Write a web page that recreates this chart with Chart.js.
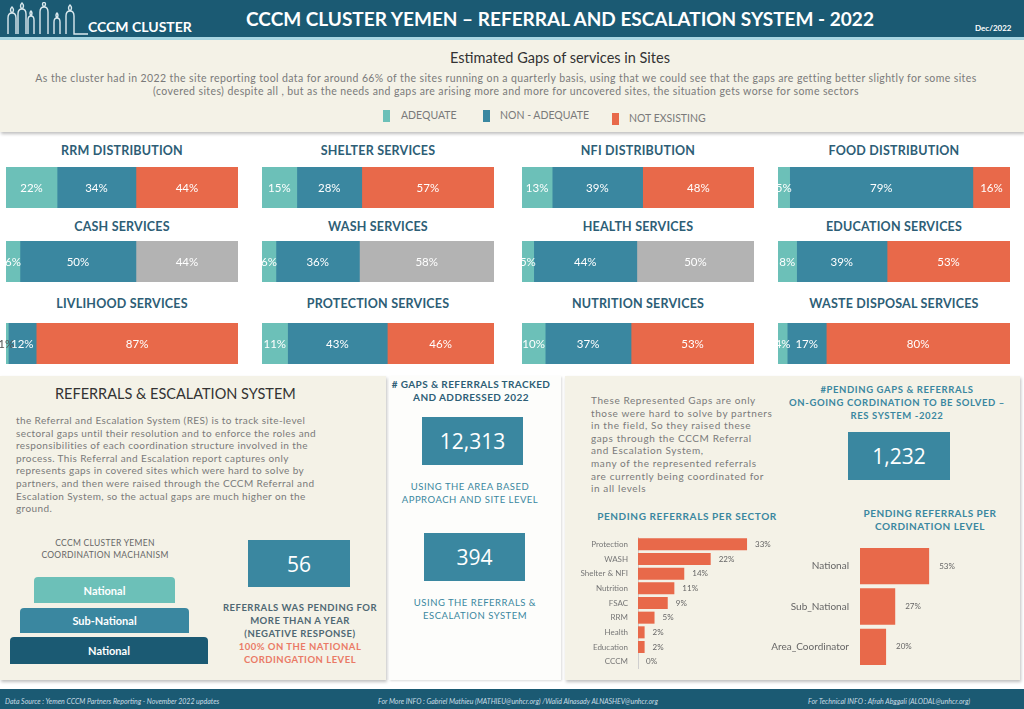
<!DOCTYPE html>
<html>
<head>
<meta charset="utf-8">
<script src="https://cdn.jsdelivr.net/npm/chart.js@4.4.0/dist/chart.umd.min.js"></script>
<style>
  body { margin: 0; width: 1024px; height: 709px; overflow: hidden; background: #fff; font-family: Lato, 'Open Sans', sans-serif; position: relative; }
  .abs { position: absolute; }
  .header { left: 0; top: 0; width: 1024px; height: 37px; background: #1b5a73; }
  .strip { left: 0; top: 37px; width: 1024px; height: 3px; background: #a9d6e2; }
  .title { left: 160px; top: 7px; width: 800px; text-align: center; color: #fff; font-weight: 700; font-size: 19px; white-space: nowrap; }
  .panel { background: #f4f2e7; box-shadow: 1px 2px 3px rgba(0,0,0,0.25); }
  .para { color: #7a7a7a; font-size: 10px; line-height: 12.6px; white-space: nowrap; }
  .svc-title { color: #2d5e76; font-weight: 700; font-size: 12.5px; text-align: center; width: 232px; letter-spacing: 0.2px; white-space: nowrap; }
  .numbox { background: #3a87a0; color: #fff; font-family: 'Open Sans', sans-serif; font-size: 21px; display: flex; align-items: center; justify-content: center; }
  .cap { text-align: center; font-size: 9.5px; line-height: 13px; white-space: nowrap; letter-spacing: 0.5px; }
  .step { color: #fff; font-weight: 700; font-size: 11px; display: flex; align-items: center; justify-content: center; border-radius: 4px 4px 0 0; }
  .foot { color: #c9dde5; font-style: italic; font-size: 7px; top: 697px; white-space: nowrap; }
</style>
</head>
<body>
<script>
// stacked gap shares per service (percent of sites)
const serviceNames = ['RRM DISTRIBUTION', 'SHELTER SERVICES', 'NFI DISTRIBUTION', 'FOOD DISTRIBUTION',
  'CASH SERVICES', 'WASH SERVICES', 'HEALTH SERVICES', 'EDUCATION SERVICES',
  'LIVLIHOOD SERVICES', 'PROTECTION SERVICES', 'NUTRITION SERVICES', 'WASTE DISPOSAL SERVICES'];
const adequate = [22, 15, 13, 5, 6, 6, 5, 8, 1, 11, 10, 4];
const nonAdequate = [34, 28, 39, 79, 50, 36, 44, 39, 12, 43, 37, 17];
const notExisting = [44, 57, 48, 16, 44, 58, 50, 53, 87, 46, 53, 80];
const greyedServices = ['CASH SERVICES', 'WASH SERVICES', 'HEALTH SERVICES'];

// pending referrals per sector
const sectorLabels = ['Protection', 'WASH', 'Shelter & NFI', 'Nutrition', 'FSAC', 'RRM', 'Health', 'Education', 'CCCM'];
const sectorShares = [33, 22, 14, 11, 9, 5, 2, 2, 0];

// pending referrals per coordination level
const levelLabels = ['National', 'Sub_National', 'Area_Coordinator'];
const levelShares = [53, 27, 20];
</script>

<div class="abs header"></div>
<div class="abs strip"></div>
<svg class="abs" style="left:4px;top:2px" width="84" height="34" viewBox="0 0 84 34" fill="none" stroke="#dbe9ee" stroke-width="1.4">
  <path d="M4 32 V16 q0-5 4-5 q-3-3 0-6 q3 3 0 6 q4 0 4 5 V32"/>
  <path d="M14 32 V12 q0-5 4-5 q-3-3 0-6 q3 3 0 6 q4 0 4 5 V32"/>
  <path d="M24 32 V18 q0-4 3-4 q-2-3 0-5 q2 2 0 5 q3 0 3 4 V32"/>
  <path d="M36 32 V10 q0-5 4-5 q-3-3 0-5 q3 2 0 5 q4 0 4 5 V32"/>
  <path d="M50 32 V20 q0-4 3-4 q-2-3 0-5 q2 2 0 5 q3 0 3 4 V32"/>
  <path d="M62 32 V14 q0-5 4-5 q-3-3 0-6 q3 3 0 6 q4 0 4 5 V32 H84"/>
</svg>
<div class="abs" style="left:88px;top:18px;color:#fff;font-weight:700;font-size:14px;white-space:nowrap">CCCM CLUSTER</div>
<div class="abs title">CCCM CLUSTER YEMEN – REFERRAL AND ESCALATION SYSTEM - 2022</div>
<div class="abs" style="left:975px;top:23px;color:#fff;font-weight:700;font-size:8px">Dec/2022</div>

<div class="abs panel" style="left:0;top:40px;width:1024px;height:92px"></div>
<div class="abs" style="left:0;top:49px;width:1024px;text-align:center;color:#333;font-size:14.5px;padding-left:96px;box-sizing:border-box">Estimated Gaps of services in Sites</div>
<div class="abs para" style="left:0;top:72px;width:1012px;text-align:center;font-size:10.5px;letter-spacing:0.4px">As the cluster had in 2022 the site reporting tool data for around 66% of the sites running on a quarterly basis, using that we could see that the gaps are getting better slightly for some sites<br>(covered sites) despite all , but as the needs and gaps are arising more and more for uncovered sites, the situation gets worse for some sectors</div>
<div class="abs" style="left:383px;top:110px;width:7px;height:12px;background:#6cc0b8"></div>
<div class="abs para" style="left:401px;top:109px;font-size:10.5px">ADEQUATE</div>
<div class="abs" style="left:483px;top:110px;width:7px;height:12px;background:#3a87a0"></div>
<div class="abs para" style="left:500px;top:109px;font-size:10.5px">NON - ADEQUATE</div>
<div class="abs" style="left:612px;top:113px;width:7px;height:12px;background:#e8694a"></div>
<div class="abs para" style="left:629px;top:112px;font-size:10.5px">NOT EXSISTING</div>

<div id="services"></div>

<!-- left panel -->
<div class="abs panel" style="left:0;top:376px;width:386px;height:304px"></div>
<div class="abs" style="left:55px;top:385px;color:#333;font-size:14.5px;white-space:nowrap">REFERRALS &amp; ESCALATION SYSTEM</div>
<div class="abs para" style="left:16px;top:414px;letter-spacing:0.4px">the Referral and Escalation System (RES) is to track site-level<br>sectoral gaps until their resolution and to enforce the roles and<br>responsibilities of each coordination structure involved in the<br>process. This Referral and Escalation report captures only<br>represents gaps in covered sites which were hard to solve by<br>partners, and then were raised through the CCCM Referral and<br>Escalation System, so the actual gaps are much higher on the<br>ground.</div>
<div class="abs cap" style="left:5px;top:537px;width:200px;color:#666;font-size:8.5px;line-height:12px;letter-spacing:0.3px">CCCM CLUSTER YEMEN<br>COORDINATION MACHANISM</div>
<div class="abs step" style="left:34px;top:577px;width:141px;height:26px;background:#6cc0b8">National</div>
<div class="abs step" style="left:20px;top:608px;width:169px;height:25px;background:#3a87a0">Sub-National</div>
<div class="abs step" style="left:10px;top:637px;width:198px;height:27px;background:#1b5a73">National</div>
<div class="abs numbox" style="left:248px;top:540px;width:102px;height:47px">56</div>
<div class="abs cap" style="left:200px;top:601px;width:200px;font-weight:700;color:#4f6873">REFERRALS WAS PENDING FOR<br>MORE THAN A YEAR<br>(NEGATIVE RESPONSE)<br><span style="color:#ea7a66">100% ON THE NATIONAL<br>CORDINGATION LEVEL</span></div>

<!-- middle column -->
<div class="abs" style="left:389px;top:376px;width:172px;height:304px;background:#fdfdfb;box-shadow:1px 1px 2px rgba(0,0,0,0.15)"></div>
<div class="abs cap" style="left:371px;top:378px;width:200px;font-weight:700;color:#2d5e76;font-size:10px;letter-spacing:0.4px">#&nbsp;GAPS &amp; REFERRALS TRACKED<br>AND ADDRESSED 2022</div>
<div class="abs numbox" style="left:422px;top:417px;width:101px;height:48px">12,313</div>
<div class="abs cap" style="left:370px;top:480px;width:200px;color:#3a87a0">USING THE AREA BASED<br>APPROACH AND SITE LEVEL</div>
<div class="abs numbox" style="left:424px;top:533px;width:101px;height:48px">394</div>
<div class="abs cap" style="left:375px;top:596px;width:200px;color:#3a87a0">USING THE REFERRALS &amp;<br>ESCALATION SYSTEM</div>

<!-- right panel -->
<div class="abs panel" style="left:565px;top:376px;width:455px;height:304px"></div>
<div class="abs para" style="left:591px;top:394px;letter-spacing:0.6px">These Represented Gaps are only<br>those were hard to solve by partners<br>in the field, So they raised these<br>gaps through the CCCM Referral<br>and Escalation System,<br>many of the represented referrals<br>are currently being coordinated for<br>in all levels</div>
<div class="abs cap" style="left:747px;top:383px;width:300px;font-weight:700;color:#3a87a0;letter-spacing:0.6px">#PENDING GAPS &amp; REFERRALS<br>ON-GOING CORDINATION TO BE SOLVED –<br>RES SYSTEM -2022</div>
<div class="abs numbox" style="left:848px;top:432px;width:102px;height:48px">1,232</div>
<div class="abs cap" style="left:587px;top:510px;width:200px;font-weight:700;color:#3a87a0;font-size:10px;letter-spacing:0.6px">PENDING REFERRALS PER SECTOR</div>
<div class="abs cap" style="left:830px;top:507px;width:200px;font-weight:700;color:#3a87a0;font-size:10px;letter-spacing:0.5px">PENDING REFERRALS PER<br>CORDINATION LEVEL</div>
<canvas id="sectorChart" class="abs" style="left:570px;top:537px" width="220" height="132"></canvas>
<canvas id="levelChart" class="abs" style="left:760px;top:546px" width="250" height="121"></canvas>

<!-- footer -->
<div class="abs" style="left:0;top:689px;width:1024px;height:20px;background:#1b5a73"></div>
<div class="abs foot" style="left:5px">Data Source : Yemen CCCM Partners Reporting - November 2022 updates</div>
<div class="abs foot" style="left:378px">For More INFO : Gabriel Mathieu (MATHIEU@unhcr.org) /Walid Alnasady ALNASHEV@unhcr.org</div>
<div class="abs foot" style="left:808px">For Technical INFO : Afrah Abggali (ALODAL@unhcr.org)</div>

<script>
const colLeft = [6, 262, 522, 778];
const rowBarTop = [167, 241, 323];
const rowTitleTop = [143, 219, 296];
const sidePad = 10;

const segmentLabels = {
  id: 'segmentLabels',
  afterDatasetsDraw(chart) {
    const ctx = chart.ctx;
    ctx.save();
    ctx.font = '11.5px Lato';
    ctx.textAlign = 'center';
    ctx.textBaseline = 'middle';
    chart.data.datasets.forEach((ds, i) => {
      chart.getDatasetMeta(i).data.forEach((bar, j) => {
        const v = ds.data[j];
        ctx.fillStyle = v < 3 ? '#555' : '#fff';
        ctx.fillText(v + '%', (bar.x + bar.base) / 2 - (v < 3 ? 1 : 0), bar.y + 1);
      });
    });
    ctx.restore();
  },
};

const endLabels = {
  id: 'endLabels',
  afterDatasetsDraw(chart, args, opts) {
    const ctx = chart.ctx;
    ctx.save();
    ctx.font = opts.size + 'px Lato';
    ctx.fillStyle = '#666';
    ctx.textBaseline = 'middle';
    const ds = chart.data.datasets[0];
    chart.getDatasetMeta(0).data.forEach((bar, j) => {
      ctx.fillText(ds.data[j] + '%', bar.x + opts.gap, bar.y);
    });
    ctx.restore();
  },
};

const holder = document.getElementById('services');
serviceNames.forEach((name, i) => {
  const col = i % 4;
  const row = Math.floor(i / 4);
  const title = document.createElement('div');
  title.className = 'abs svc-title';
  title.style.left = colLeft[col] + 'px';
  title.style.top = rowTitleTop[row] + 'px';
  title.textContent = name;
  holder.appendChild(title);

  const canvas = document.createElement('canvas');
  canvas.className = 'abs';
  canvas.width = 232 + 2 * sidePad;
  canvas.height = 41;
  canvas.style.left = (colLeft[col] - sidePad) + 'px';
  canvas.style.top = rowBarTop[row] + 'px';
  holder.appendChild(canvas);

  const thirdColor = greyedServices.includes(name) ? '#b3b3b3' : '#e8694a';
  const total = adequate[i] + nonAdequate[i] + notExisting[i];
  new Chart(canvas, {
    type: 'bar',
    data: {
      labels: [name],
      datasets: [
        { label: 'ADEQUATE', data: [adequate[i]], backgroundColor: '#6cc0b8' },
        { label: 'NON - ADEQUATE', data: [nonAdequate[i]], backgroundColor: '#3a87a0' },
        { label: 'NOT EXSISTING', data: [notExisting[i]], backgroundColor: thirdColor },
      ],
    },
    options: {
      indexAxis: 'y',
      responsive: false,
      animation: false,
      datasets: { bar: { barPercentage: 1, categoryPercentage: 1 } },
      layout: { padding: { left: sidePad, right: sidePad, top: 0, bottom: 0 } },
      plugins: { legend: { display: false }, tooltip: { enabled: false } },
      scales: {
        x: { stacked: true, display: false, min: 0, max: total },
        y: { stacked: true, display: false },
      },
    },
    plugins: [segmentLabels],
  });
});

new Chart(document.getElementById('sectorChart'), {
  type: 'bar',
  data: {
    labels: sectorLabels,
    datasets: [{ data: sectorShares, backgroundColor: '#e8694a', barPercentage: 0.82, categoryPercentage: 1 }],
  },
  options: {
    indexAxis: 'y',
    responsive: false,
    animation: false,
    layout: { padding: 0 },
    plugins: { legend: { display: false }, tooltip: { enabled: false }, endLabels: { size: 8, gap: 8 } },
    scales: {
      x: { display: false, min: 0, max: 46 },
      y: {
        grid: { display: false },
        border: { color: '#cfcfcf' },
        ticks: { color: '#777', font: { size: 8, family: 'Lato' }, padding: 2 },
        afterFit: (scale) => { scale.width = 68; scale.paddingTop = 0; scale.paddingBottom = 0; },
      },
    },
  },
  plugins: [endLabels],
});

new Chart(document.getElementById('levelChart'), {
  type: 'bar',
  data: {
    labels: levelLabels,
    datasets: [{ data: levelShares, backgroundColor: '#e8694a', barPercentage: 0.9, categoryPercentage: 1 }],
  },
  options: {
    indexAxis: 'y',
    responsive: false,
    animation: false,
    layout: { padding: 0 },
    plugins: { legend: { display: false }, tooltip: { enabled: false }, endLabels: { size: 8, gap: 10 } },
    scales: {
      x: { display: false, min: 0, max: 115 },
      y: {
        grid: { display: false },
        border: { display: false },
        ticks: { color: '#666', font: { size: 10, family: 'Lato' }, padding: 3 },
        afterFit: (scale) => { scale.width = 100; scale.paddingTop = 0; scale.paddingBottom = 0; },
      },
    },
  },
  plugins: [endLabels],
});
</script>
</body>
</html>
